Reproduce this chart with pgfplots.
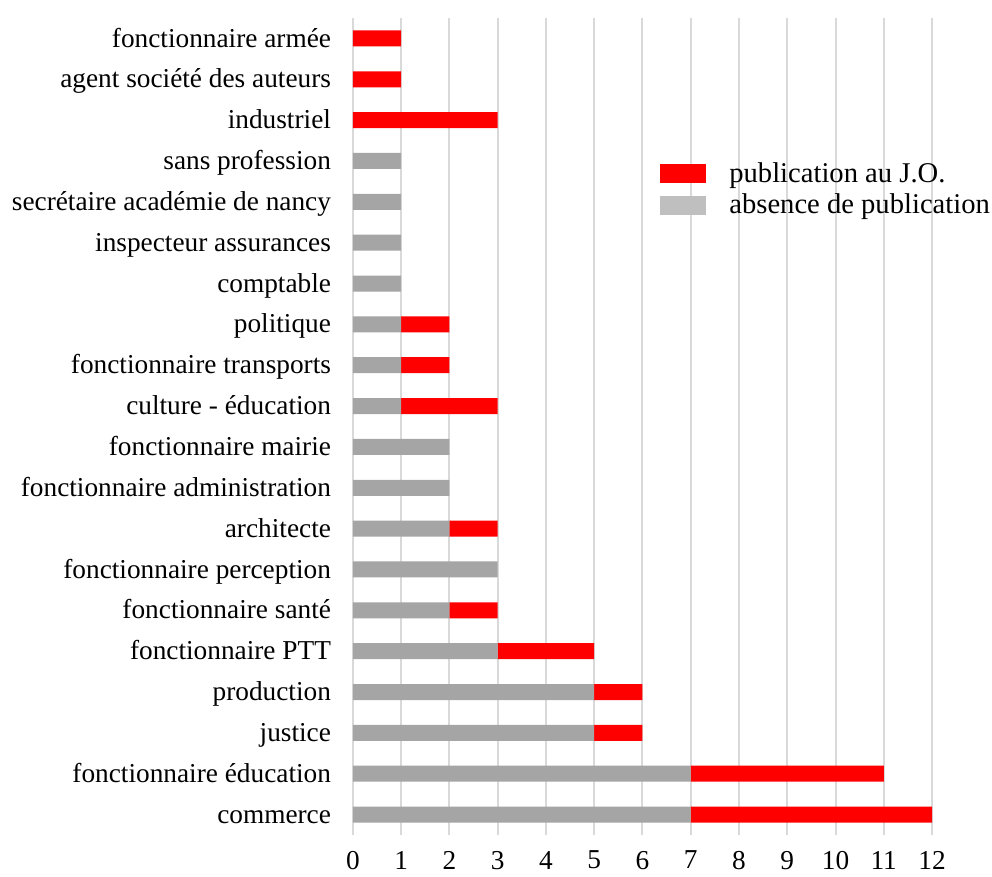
\documentclass[border=0pt]{standalone}
\usepackage{fontspec}
\setmainfont{Liberation Serif}
\usepackage{pgfplots}
\usepackage{pgfplotstable}
\pgfplotsset{compat=1.18}
\definecolor{barred}{HTML}{FF0000}
\definecolor{bargray}{HTML}{A5A5A5}
\definecolor{leggray}{HTML}{BFBFBF}
\definecolor{gridgray}{HTML}{D9D9D9}
\newcommand\lbl{\fontsize{13.65bp}{16bp}\selectfont}
\newcommand\leg{\fontsize{14.3bp}{17bp}\selectfont}
\pgfplotstableread{
idx gray red
0 7 5
1 7 4
2 5 1
3 5 1
4 3 2
5 2 1
6 3 0
7 2 1
8 2 0
9 2 0
10 1 2
11 1 1
12 1 1
13 1 0
14 1 0
15 1 0
16 1 0
17 0 3
18 0 1
19 0 1
}\datatable
\begin{document}
\begin{tikzpicture}
\path (-176.5bp,-19.5bp) rectangle (319.5bp,417.5bp);
\begin{axis}[
  at={(0,0)}, anchor=south west,
  scale only axis, width=289.5bp, height=408.5bp,
  xbar stacked, bar width=8bp,
  xmin=0, xmax=12, ymin=-0.5, ymax=19.5,
  xtick={0,...,12}, ytick={0,...,19},
  yticklabels={commerce, fonctionnaire éducation, justice, production, fonctionnaire PTT, fonctionnaire santé, fonctionnaire perception, architecte, fonctionnaire administration, fonctionnaire mairie, culture - éducation, fonctionnaire transports, politique, comptable, inspecteur assurances, secrétaire académie de nancy, sans profession, industriel, agent société des auteurs, fonctionnaire armée~},
  axis line style={draw=none},
  major tick length=0pt,
  xmajorgrids, major grid style={gridgray, line width=1bp},
  /pgf/number format/assume math mode=true,
  ticklabel style={font=\lbl},
  xticklabel style={yshift=-4.5bp},
  yticklabel style={xshift=-7.5bp, yshift=-2bp, text height=0.68em, text depth=0.22em},
  legend image code/.code={\fill[#1] (0bp,-4.75bp) rectangle (23bp,4.75bp);},
  legend style={draw=none, fill=none, inner sep=0pt, font=\leg,
    at={(0.5302,0.8237)}, anchor=north west,
    row sep=4.2bp,
    nodes={inner sep=0pt},
    /tikz/every odd column/.append style={column sep=11.5bp}},
  legend cell align=left,
]
\addplot[fill=bargray, draw=none, forget plot] table[x=gray, y=idx] {\datatable};
\addplot[fill=barred, draw=none, forget plot] table[x=red, y=idx] {\datatable};
\addlegendimage{fill=barred, draw=none}
\addlegendentry{publication au J.O.}
\addlegendimage{fill=leggray, draw=none}
\addlegendentry{absence de publication}
\end{axis}
\end{tikzpicture}
\end{document}
